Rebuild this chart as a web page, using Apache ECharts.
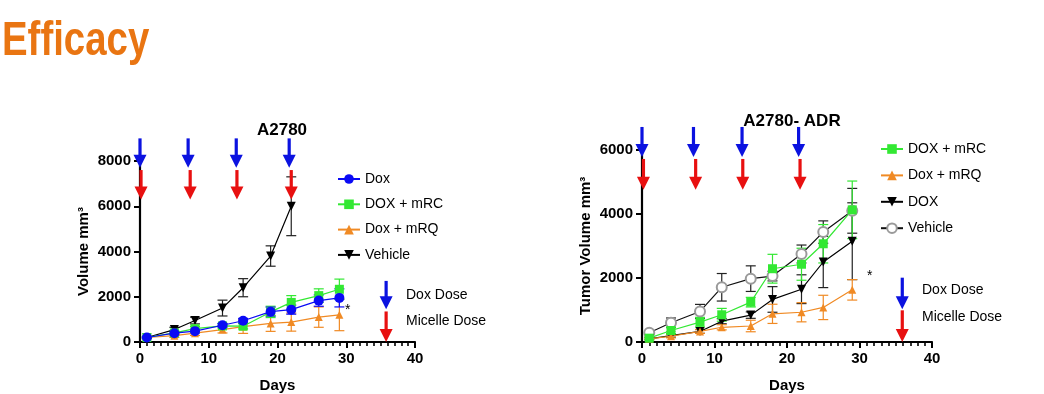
<!DOCTYPE html>
<html><head><meta charset="utf-8">
<script src="https://cdn.jsdelivr.net/npm/echarts@6/dist/echarts.min.js"></script>
<style>html,body{margin:0;padding:0;background:#fff}#c{width:1044px;height:394px}</style>
</head><body><div id="c"></div>
<script>
// ---- Left panel: A2780 ----
const leftDays = [1, 5, 8, 12, 15, 19, 22, 26, 29];
const leftDox = [200, 390, 480, 740, 940, 1340, 1430, 1830, 1950];
const leftDoxErr = [30, 80, 80, 80, 100, 200, 200, 250, 400];
const leftMRC = [200, 400, 590, 710, 700, 1330, 1750, 2050, 2330];
const leftMRCErr = [30, 80, 100, 100, 120, 250, 300, 300, 450];
const leftMRQ = [200, 280, 390, 550, 680, 820, 880, 1100, 1200];
const leftMRQErr = [30, 80, 100, 150, 300, 350, 400, 450, 700];
const leftVehDays = [1, 5, 8, 12, 15, 19, 22];
const leftVeh = [200, 550, 950, 1500, 2400, 3800, 6000];
const leftVehErr = [30, 100, 150, 350, 400, 450, 1300];
// dose arrows
const leftDoxDoseDays = [0, 7.0, 14.0, 21.7];
const leftMicDoseDays = [0.15, 7.3, 14.1, 22.0];
const leftDoxArrowY = [9000, 7700];
const leftMicArrowY = [7600, 6300];
const leftKeyDay = 35.8;
const leftKeyDoxY = [2700, 1450];
const leftKeyMicY = [1350, 0];

// ---- Right panel: A2780- ADR ----
const rightDays = [1, 4, 8, 11, 15, 18, 22, 25, 29];
const rightMRC = [120, 360, 620, 850, 1245, 2290, 2430, 3070, 4130];
const rightMRCErr = [40, 100, 150, 200, 150, 450, 500, 600, 900];
const rightMRQ = [100, 180, 330, 460, 500, 880, 930, 1080, 1630];
const rightMRQErr = [30, 50, 60, 80, 180, 300, 300, 380, 320];
const rightDOX = [100, 200, 330, 650, 840, 1330, 1650, 2500, 3150];
const rightDOXErr = [30, 50, 60, 80, 100, 400, 450, 800, 1200];
const rightVeh = [290, 600, 955, 1710, 1980, 2060, 2750, 3435, 4100];
const rightVehErr = [40, 150, 220, 430, 400, 150, 280, 350, 700];
const rightDoxDoseDays = [0, 7.1, 13.8, 21.6];
const rightMicDoseDays = [0.2, 7.4, 13.9, 21.8];
const rightDoxArrowY = [6720, 5780];
const rightMicArrowY = [5720, 4760];
const rightKeyDay = 35.9;
const rightKeyDoxY = [2010, 1020];
const rightKeyMicY = [990, 0];

const BLUE = '#0A0AF5', GREEN = '#33E833', ORANGE = '#F08A24', BLACK = '#000', GRAY = '#9A9A9A';
const ARROW_BLUE = '#0B12E0', ARROW_RED = '#E81010';
const FONT = 'Liberation Sans, Arial, sans-serif';

function zip(xs, ys) { return xs.map((x, i) => [x, ys[i]]); }
function errData(xs, ys, es) { return xs.map((x, i) => [x, ys[i] - es[i], ys[i] + es[i]]); }

function errSeries(idx, xs, ys, es, color) {
  return {
    type: 'custom', xAxisIndex: idx, yAxisIndex: idx, silent: true, z: 1,
    data: errData(xs, ys, es),
    renderItem: function (params, api) {
      const x = api.value(0);
      const lo = api.coord([x, Math.max(0, api.value(1))]);
      const hi = api.coord([x, api.value(2)]);
      const w = 5;
      const st = { stroke: color, lineWidth: 1.2 };
      return { type: 'group', children: [
        { type: 'line', shape: { x1: lo[0], y1: lo[1], x2: hi[0], y2: hi[1] }, style: st },
        { type: 'line', shape: { x1: hi[0] - w, y1: hi[1], x2: hi[0] + w, y2: hi[1] }, style: st },
        { type: 'line', shape: { x1: lo[0] - w, y1: lo[1], x2: lo[0] + w, y2: lo[1] }, style: st }
      ]};
    }
  };
}

function arrowSeries(idx, days, yPair, color) {
  return {
    type: 'custom', xAxisIndex: idx, yAxisIndex: idx, silent: true, z: 5, clip: false,
    data: days.map(d => [d, yPair[0], yPair[1]]),
    renderItem: function (params, api) {
      const x = api.value(0);
      const top = api.coord([x, api.value(1)]);
      const tip = api.coord([x, api.value(2)]);
      const hh = 13, hw = 6.5;
      return { type: 'group', children: [
        { type: 'line', shape: { x1: top[0], y1: top[1], x2: tip[0], y2: tip[1] - hh + 1 }, style: { stroke: color, lineWidth: 3.2 } },
        { type: 'polygon', shape: { points: [[tip[0] - hw, tip[1] - hh], [tip[0] + hw, tip[1] - hh], [tip[0], tip[1]]] }, style: { fill: color } }
      ]};
    }
  };
}

function lineSeries(idx, name, xs, ys, color, symbol, opts) {
  return Object.assign({
    type: 'line', name: name, xAxisIndex: idx, yAxisIndex: idx, z: 3,
    data: zip(xs, ys), symbol: symbol, symbolSize: 9,
    lineStyle: { color: color, width: 1.2 }, itemStyle: { color: color },
    emphasis: { disabled: true }, animation: false
  }, opts || {});
}

function xAxisOpt(idx) {
  return {
    type: 'value', gridIndex: idx, min: 0, max: 40, interval: 10,
    name: 'Days', nameLocation: 'middle', nameGap: 36,
    nameTextStyle: { fontFamily: FONT, fontWeight: 'bold', fontSize: 15, color: '#000' },
    axisLine: { lineStyle: { color: '#000', width: 2.2 } },
    axisTick: { length: 6, lineStyle: { color: '#000', width: 2 } },
    minorTick: { show: true, splitNumber: 10, length: 4, lineStyle: { color: '#000', width: 1.6 } },
    axisLabel: { fontFamily: FONT, fontWeight: 'bold', fontSize: 15, color: '#000', margin: 9 },
    splitLine: { show: false }
  };
}
function yAxisOpt(idx, max, name, gap) {
  return {
    type: 'value', gridIndex: idx, min: 0, max: max, interval: 2000,
    name: name, nameLocation: 'middle', nameGap: gap,
    nameTextStyle: { fontFamily: FONT, fontWeight: 'bold', fontSize: 15, color: '#000' },
    axisLine: { show: true, lineStyle: { color: '#000', width: 2.2 } },
    axisTick: { show: true, length: 6, lineStyle: { color: '#000', width: 2 } },
    axisLabel: { fontFamily: FONT, fontWeight: 'bold', fontSize: 15, color: '#000', margin: 9,
      formatter: v => String(v) },
    splitLine: { show: false }
  };
}

const chart = echarts.init(document.getElementById('c'), null, { renderer: 'canvas' });
const legendText = { fontFamily: FONT, fontSize: 14, color: '#000' };
chart.setOption({
  animation: false,
  backgroundColor: '#fff',
  title: [
    { text: 'A2780', left: 277, top: 117, textAlign: 'center', textStyle: { fontFamily: FONT, fontWeight: 'bold', fontSize: 17, color: '#000' } },
    { text: 'A2780- ADR', left: 787, top: 108, textAlign: 'center', textStyle: { fontFamily: FONT, fontWeight: 'bold', fontSize: 17, color: '#000' } }
  ],
  grid: [
    { left: 140, width: 275, top: 161, height: 183, containLabel: false },
    { left: 642, width: 290, top: 150, height: 193, containLabel: false }
  ],
  xAxis: [xAxisOpt(0), xAxisOpt(1)],
  yAxis: [yAxisOpt(0, 8000, 'Volume mm³', 49), yAxisOpt(1, 6000, 'Tumor Volume mm³', 49)],
  legend: [
    { orient: 'vertical', left: 332, top: 167, itemWidth: 22, itemHeight: 12, itemGap: 11.3, textStyle: legendText, selectedMode: false,
      data: ['Dox', 'DOX + mRC', 'Dox + mRQ', 'Vehicle'] },
    { orient: 'vertical', left: 875, top: 137, itemWidth: 22, itemHeight: 12, itemGap: 12.4, textStyle: legendText, selectedMode: false,
      data: ['DOX + mRC ', 'Dox + mRQ ', 'DOX', 'Vehicle '] }
  ],
  graphic: [
    { type: 'text', left: 2, top: 18, scaleX: 0.8, style: { text: 'Efficacy', font: 'bold 48px ' + FONT, fill: '#E97512' } },
    { type: 'text', left: 406, top: 288, style: { text: 'Dox Dose', font: '14px ' + FONT, fill: '#000' } },
    { type: 'text', left: 406, top: 314, style: { text: 'Micelle Dose', font: '14px ' + FONT, fill: '#000' } },
    { type: 'text', left: 922, top: 283, style: { text: 'Dox Dose', font: '14px ' + FONT, fill: '#000' } },
    { type: 'text', left: 922, top: 310, style: { text: 'Micelle Dose', font: '14px ' + FONT, fill: '#000' } },
    { type: 'text', left: 345, top: 303, style: { text: '*', font: '14px ' + FONT, fill: '#000' } },
    { type: 'text', left: 867, top: 269, style: { text: '*', font: '14px ' + FONT, fill: '#000' } }
  ],
  series: [
    errSeries(0, leftVehDays, leftVeh, leftVehErr, '#222'),
    errSeries(0, leftDays, leftMRQ, leftMRQErr, ORANGE),
    errSeries(0, leftDays, leftMRC, leftMRCErr, GREEN),
    errSeries(0, leftDays, leftDox, leftDoxErr, BLUE),
    lineSeries(0, 'Vehicle', leftVehDays, leftVeh, BLACK, 'triangle', { symbolRotate: 180, symbolSize: 9 }),
    lineSeries(0, 'Dox + mRQ', leftDays, leftMRQ, ORANGE, 'triangle', { symbolSize: 8 }),
    lineSeries(0, 'DOX + mRC', leftDays, leftMRC, GREEN, 'rect', { symbolSize: 9 }),
    lineSeries(0, 'Dox', leftDays, leftDox, BLUE, 'circle', { symbolSize: 10 }),
    arrowSeries(0, leftDoxDoseDays, leftDoxArrowY, ARROW_BLUE),
    arrowSeries(0, leftMicDoseDays, leftMicArrowY, ARROW_RED),
    arrowSeries(0, [leftKeyDay], leftKeyDoxY, ARROW_BLUE),
    arrowSeries(0, [leftKeyDay], leftKeyMicY, ARROW_RED),
    errSeries(1, rightDays, rightVeh, rightVehErr, '#222'),
    errSeries(1, rightDays, rightDOX, rightDOXErr, '#222'),
    errSeries(1, rightDays, rightMRQ, rightMRQErr, ORANGE),
    errSeries(1, rightDays, rightMRC, rightMRCErr, GREEN),
    lineSeries(1, 'Vehicle ', rightDays, rightVeh, GRAY, 'emptyCircle', { symbolSize: 10, lineStyle: { color: '#111', width: 1.2 }, itemStyle: { color: GRAY, borderWidth: 1.6 } }),
    lineSeries(1, 'DOX', rightDays, rightDOX, BLACK, 'triangle', { symbolRotate: 180, symbolSize: 9 }),
    lineSeries(1, 'Dox + mRQ ', rightDays, rightMRQ, ORANGE, 'triangle', { symbolSize: 8 }),
    lineSeries(1, 'DOX + mRC ', rightDays, rightMRC, GREEN, 'rect', { symbolSize: 9 }),
    arrowSeries(1, rightDoxDoseDays, rightDoxArrowY, ARROW_BLUE),
    arrowSeries(1, rightMicDoseDays, rightMicArrowY, ARROW_RED),
    arrowSeries(1, [rightKeyDay], rightKeyDoxY, ARROW_BLUE),
    arrowSeries(1, [rightKeyDay], rightKeyMicY, ARROW_RED)
  ]
});
</script></body></html>
